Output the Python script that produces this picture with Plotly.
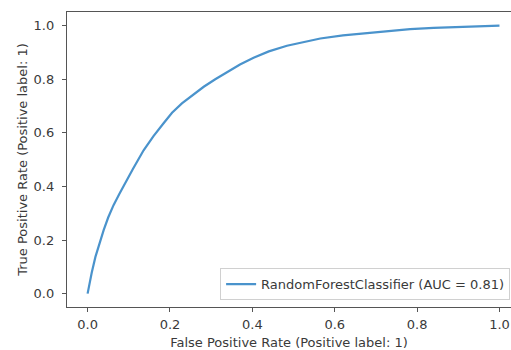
import plotly.graph_objects as go

fpr = [0, 0.005, 0.01, 0.019, 0.029, 0.039, 0.05, 0.063, 0.077, 0.09, 0.11, 0.136, 0.16,
       0.184, 0.205, 0.229, 0.255, 0.282, 0.31, 0.34, 0.37, 0.403, 0.44, 0.484, 0.525,
       0.565, 0.62, 0.68, 0.73, 0.783, 0.84, 0.905, 0.95, 1.0]
tpr = [0, 0.042, 0.078, 0.137, 0.19, 0.237, 0.284, 0.33, 0.372, 0.41, 0.465, 0.535, 0.588,
       0.635, 0.675, 0.71, 0.742, 0.772, 0.8, 0.828, 0.855, 0.88, 0.904, 0.925, 0.94,
       0.952, 0.964, 0.973, 0.981, 0.987, 0.992, 0.996, 0.998, 1.0]
label = "RandomForestClassifier (AUC = 0.81)"
tick_vals = [0.0, 0.2, 0.4, 0.6, 0.8, 1.0]
tick_text = ["0.0", "0.2", "0.4", "0.6", "0.8", "1.0"]

font = dict(family="DejaVu Sans", size=13, color="#3a3a3a")
spine = "#555555"

fig = go.Figure()
fig.add_trace(go.Scatter(x=fpr, y=tpr, mode="lines", name=label,
                         line=dict(color="#4a93cc", width=2.2)))

fig.update_layout(
    width=511, height=350,
    margin=dict(l=67, r=0, t=12, b=43),
    plot_bgcolor="white", paper_bgcolor="white",
    font=font,
    showlegend=True,
    legend=dict(x=0.998, y=0.023, xanchor="right", yanchor="bottom",
                bgcolor="white", bordercolor="#d0d0d0", borderwidth=1,
                font=font, itemwidth=30, tracegroupgap=0),
)
fig.update_xaxes(range=[-0.05, 1.028], tickvals=tick_vals, ticktext=tick_text,
                 showgrid=False, zeroline=False, showline=True, mirror=True,
                 linecolor=spine, linewidth=1.3, ticks="outside", ticklen=4,
                 tickcolor=spine, tickwidth=1, ticklabelstandoff=1,
                 title=dict(text="False Positive Rate (Positive label: 1)", standoff=8, font=font))
fig.update_yaxes(range=[-0.05, 1.051], tickvals=tick_vals, ticktext=tick_text,
                 showgrid=False, zeroline=False, showline=True, mirror=False,
                 linecolor=spine, linewidth=1.3, ticks="outside", ticklen=4,
                 tickcolor=spine, tickwidth=1, ticklabelstandoff=5,
                 title=dict(text="True Positive Rate (Positive label: 1)", standoff=3, font=font))

fig.write_html("out.html",
               config={"displayModeBar": False},
               post_script="document.body.style.margin='0';document.body.style.overflow='hidden';")
